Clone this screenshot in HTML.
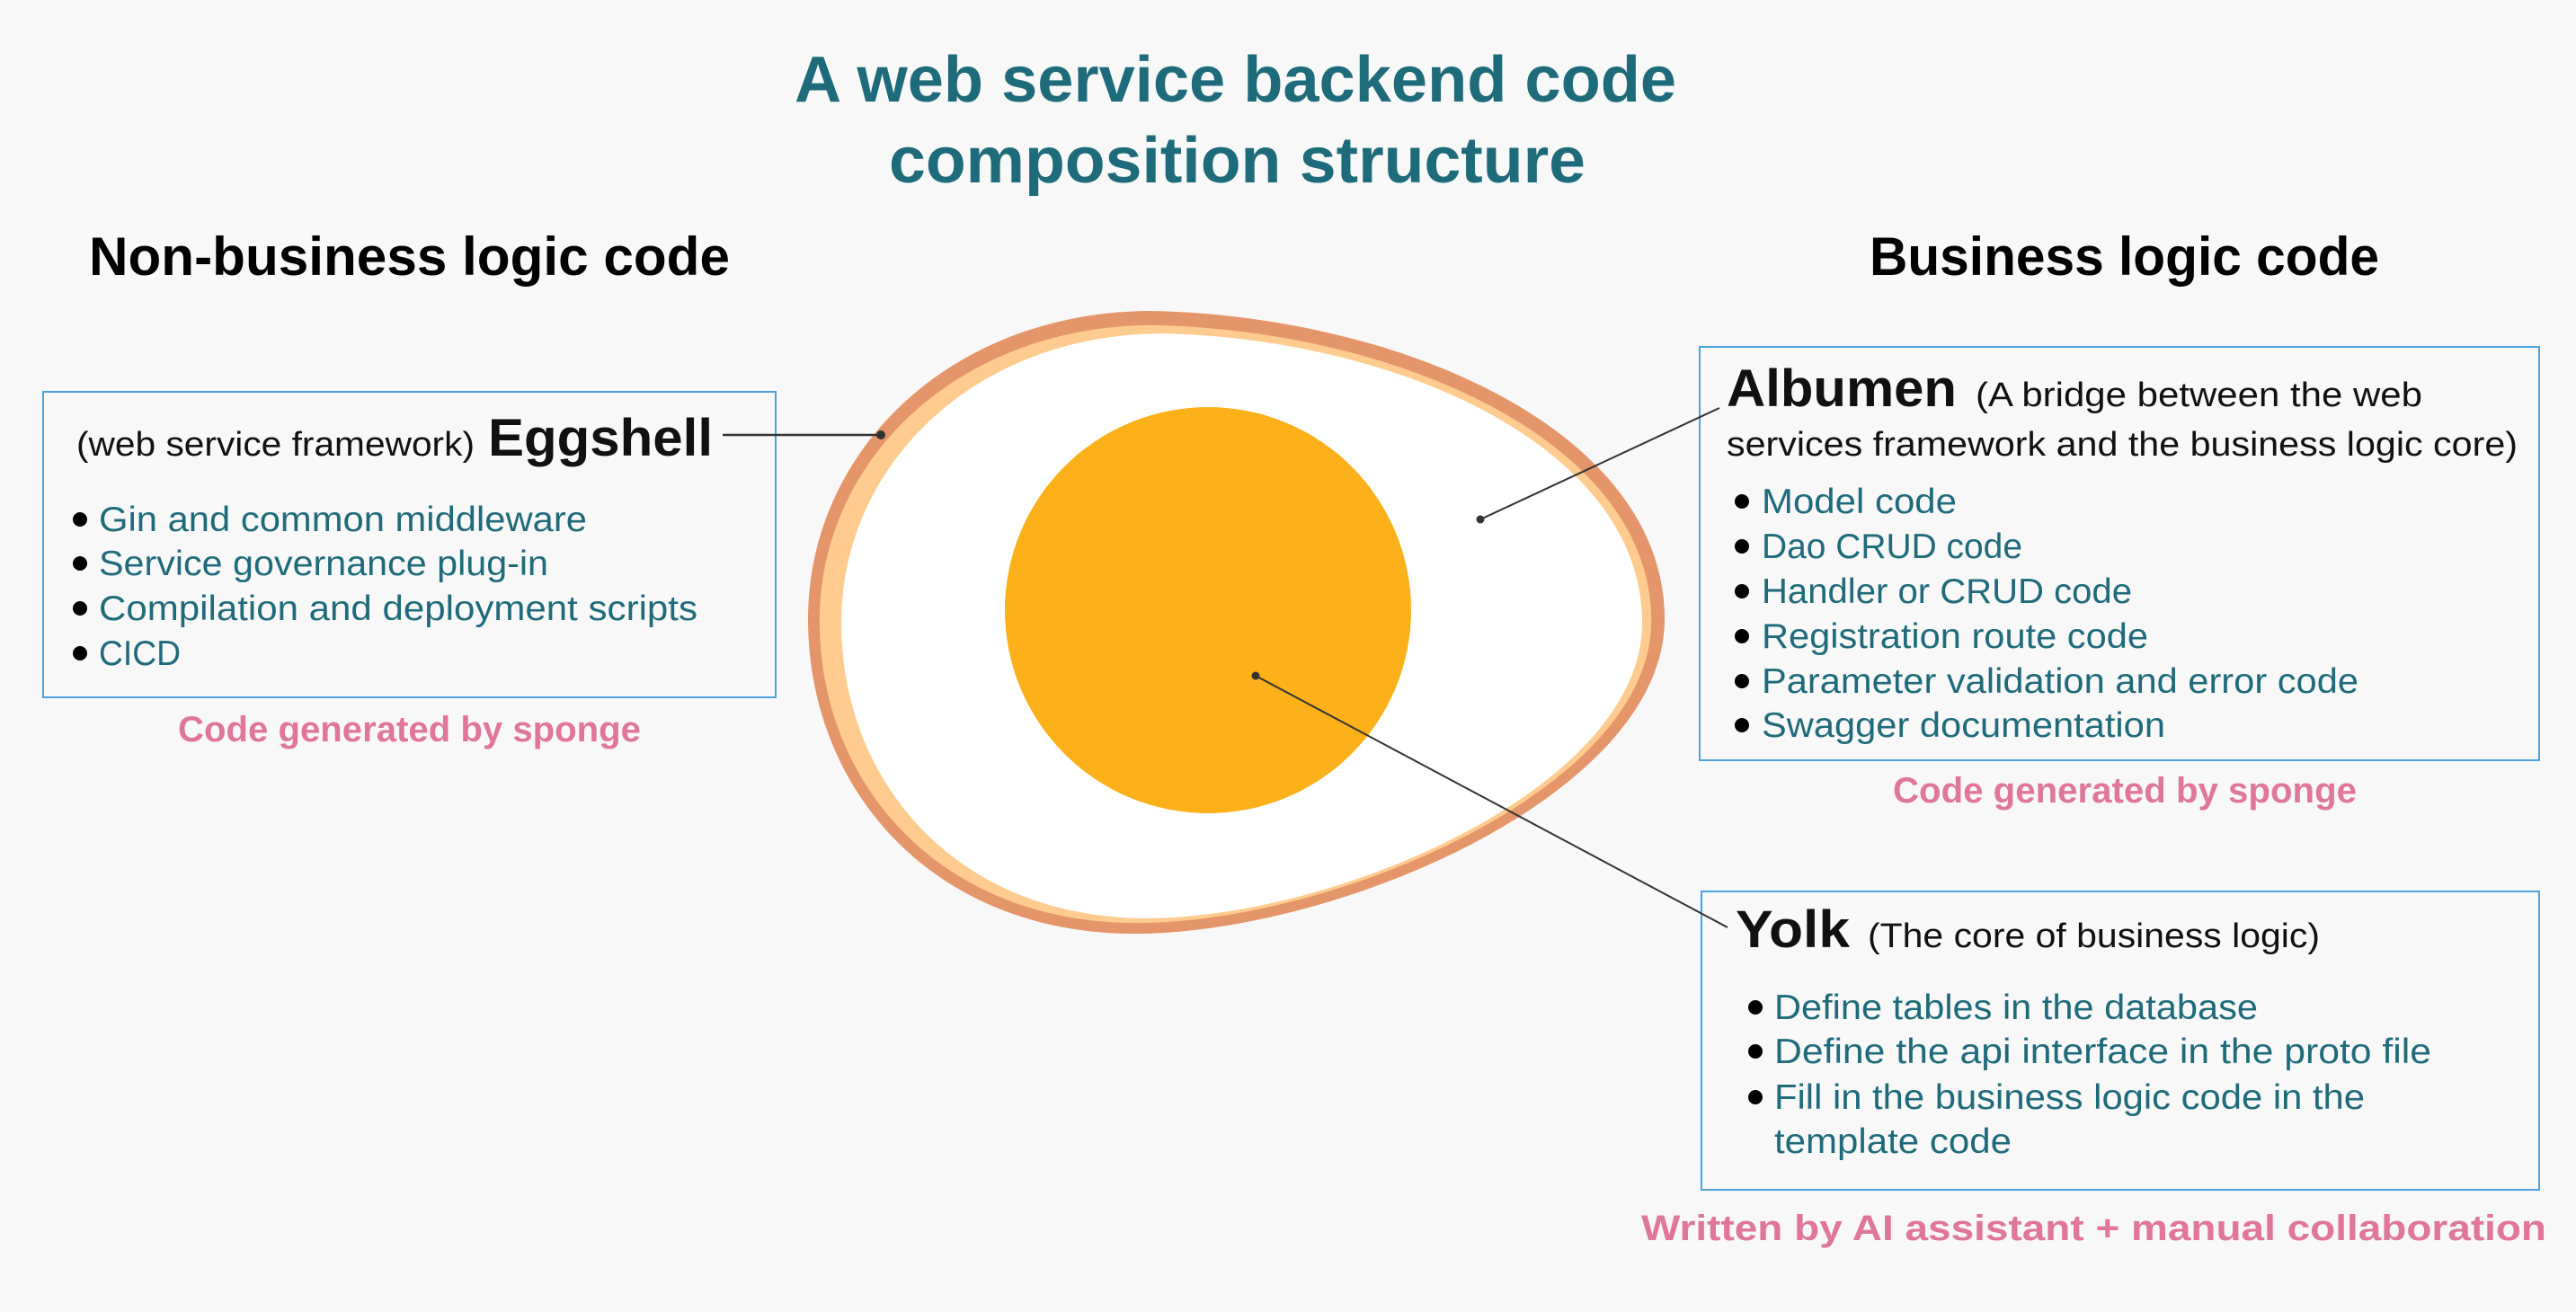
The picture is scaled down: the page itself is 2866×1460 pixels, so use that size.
<!DOCTYPE html>
<html><head><meta charset="utf-8"><style>
html,body{margin:0;padding:0;background:#F8F8F8;}
svg{display:block;}
text{font-family:"Liberation Sans",sans-serif;}
.t{fill:#1F6B7B;font-size:39px;}
.k{fill:#111;font-size:38px;}
.p{fill:#E0769A;font-size:40px;font-weight:bold;}
</style></head><body>
<svg width="2866" height="1460" viewBox="0 0 2866 1460" xmlns="http://www.w3.org/2000/svg">
<rect width="2866" height="1460" fill="#F8F8F8"/>
<defs>
<path id="egg" d="M1282 346 C1560 352 1852 480 1852 689 C1852 880 1500 1035 1269 1039 C1040 1042 899 880 899 689 C899 500 1060 346 1282 346 Z"/>
</defs>
<use href="#egg" fill="#E5956A"/>
<use href="#egg" fill="#FFCB8E" transform="translate(1374.5 694.5) scale(0.971 0.96) translate(-1375.5 -692.5)"/>
<use href="#egg" fill="#FFFFFF" transform="translate(1381.5 696.5) scale(0.935 0.939) translate(-1375.5 -692.5)"/>
<circle cx="1344" cy="679" r="226" fill="#FCB019"/>

<text x="884" y="113" textLength="981" lengthAdjust="spacingAndGlyphs" style="font-size:72px;font-weight:bold;fill:#1E6B7B">A web service backend code</text>
<text x="989" y="203" textLength="775" lengthAdjust="spacingAndGlyphs" style="font-size:72px;font-weight:bold;fill:#1E6B7B">composition structure</text>
<text x="99" y="306" textLength="713" lengthAdjust="spacingAndGlyphs" style="font-size:60px;font-weight:bold;fill:#000">Non-business logic code</text>
<text x="2080" y="306" textLength="567" lengthAdjust="spacingAndGlyphs" style="font-size:60px;font-weight:bold;fill:#000">Business logic code</text>

<rect x="48" y="436" width="815" height="340" fill="none" stroke="#4AA3DF" stroke-width="2"/>
<text class="k" x="85" y="507" textLength="443" lengthAdjust="spacingAndGlyphs">(web service framework)</text>
<text x="543" y="507" textLength="250" lengthAdjust="spacingAndGlyphs" style="font-size:58px;font-weight:bold;fill:#111">Eggshell</text>
<line x1="804" y1="484" x2="980" y2="484" stroke="#333" stroke-width="2.5"/>
<circle cx="980" cy="484" r="5" fill="#333"/>
<g fill="#000"><circle cx="89" cy="578" r="8"/><circle cx="89" cy="627" r="8"/><circle cx="89" cy="677" r="8"/><circle cx="89" cy="727" r="8"/></g>
<text class="t" x="110" y="591" textLength="543" lengthAdjust="spacingAndGlyphs">Gin and common middleware</text>
<text class="t" x="110" y="640" textLength="500" lengthAdjust="spacingAndGlyphs">Service governance plug-in</text>
<text class="t" x="110" y="690" textLength="666" lengthAdjust="spacingAndGlyphs">Compilation and deployment scripts</text>
<text class="t" x="110" y="740" textLength="91" lengthAdjust="spacingAndGlyphs">CICD</text>
<text class="p" x="198" y="825" textLength="515" lengthAdjust="spacingAndGlyphs">Code generated by sponge</text>

<rect x="1891" y="386" width="934" height="460" fill="none" stroke="#4AA3DF" stroke-width="2"/>
<line x1="1647" y1="578" x2="1913" y2="454" stroke="#333" stroke-width="2"/>
<circle cx="1647" cy="578" r="4.5" fill="#333"/>
<text x="1921" y="452" textLength="256" lengthAdjust="spacingAndGlyphs" style="font-size:58px;font-weight:bold;fill:#111">Albumen</text>
<text class="k" x="2198" y="452" textLength="497" lengthAdjust="spacingAndGlyphs">(A bridge between the web</text>
<text class="k" x="1921" y="507" textLength="880" lengthAdjust="spacingAndGlyphs">services framework and the business logic core)</text>
<g fill="#000"><circle cx="1938" cy="558" r="8"/><circle cx="1938" cy="608" r="8"/><circle cx="1938" cy="658" r="8"/><circle cx="1938" cy="708" r="8"/><circle cx="1938" cy="758" r="8"/><circle cx="1938" cy="807" r="8"/></g>
<text class="t" x="1960" y="571" textLength="217" lengthAdjust="spacingAndGlyphs">Model code</text>
<text class="t" x="1960" y="621" textLength="290" lengthAdjust="spacingAndGlyphs">Dao CRUD code</text>
<text class="t" x="1960" y="671" textLength="412" lengthAdjust="spacingAndGlyphs">Handler or CRUD code</text>
<text class="t" x="1960" y="721" textLength="430" lengthAdjust="spacingAndGlyphs">Registration route code</text>
<text class="t" x="1960" y="771" textLength="664" lengthAdjust="spacingAndGlyphs">Parameter validation and error code</text>
<text class="t" x="1960" y="820" textLength="449" lengthAdjust="spacingAndGlyphs">Swagger documentation</text>
<text class="p" x="2106" y="893" textLength="516" lengthAdjust="spacingAndGlyphs">Code generated by sponge</text>

<rect x="1893" y="992" width="932" height="332" fill="none" stroke="#4AA3DF" stroke-width="2"/>
<line x1="1397" y1="752" x2="1922" y2="1032" stroke="#333" stroke-width="2"/>
<circle cx="1397" cy="752" r="4.5" fill="#333"/>
<text x="1931" y="1054" textLength="127" lengthAdjust="spacingAndGlyphs" style="font-size:58px;font-weight:bold;fill:#111">Yolk</text>
<text class="k" x="2078" y="1054" textLength="503" lengthAdjust="spacingAndGlyphs">(The core of business logic)</text>
<g fill="#000"><circle cx="1953" cy="1121" r="8"/><circle cx="1953" cy="1170" r="8"/><circle cx="1953" cy="1221" r="8"/></g>
<text class="t" x="1974" y="1134" textLength="538" lengthAdjust="spacingAndGlyphs">Define tables in the database</text>
<text class="t" x="1974" y="1183" textLength="731" lengthAdjust="spacingAndGlyphs">Define the api interface in the proto file</text>
<text class="t" x="1974" y="1234" textLength="657" lengthAdjust="spacingAndGlyphs">Fill in the business logic code in the</text>
<text class="t" x="1974" y="1283" textLength="264" lengthAdjust="spacingAndGlyphs">template code</text>
<text class="p" x="1826" y="1380" textLength="1007" lengthAdjust="spacingAndGlyphs">Written by AI assistant + manual collaboration</text>
</svg>
</body></html>
